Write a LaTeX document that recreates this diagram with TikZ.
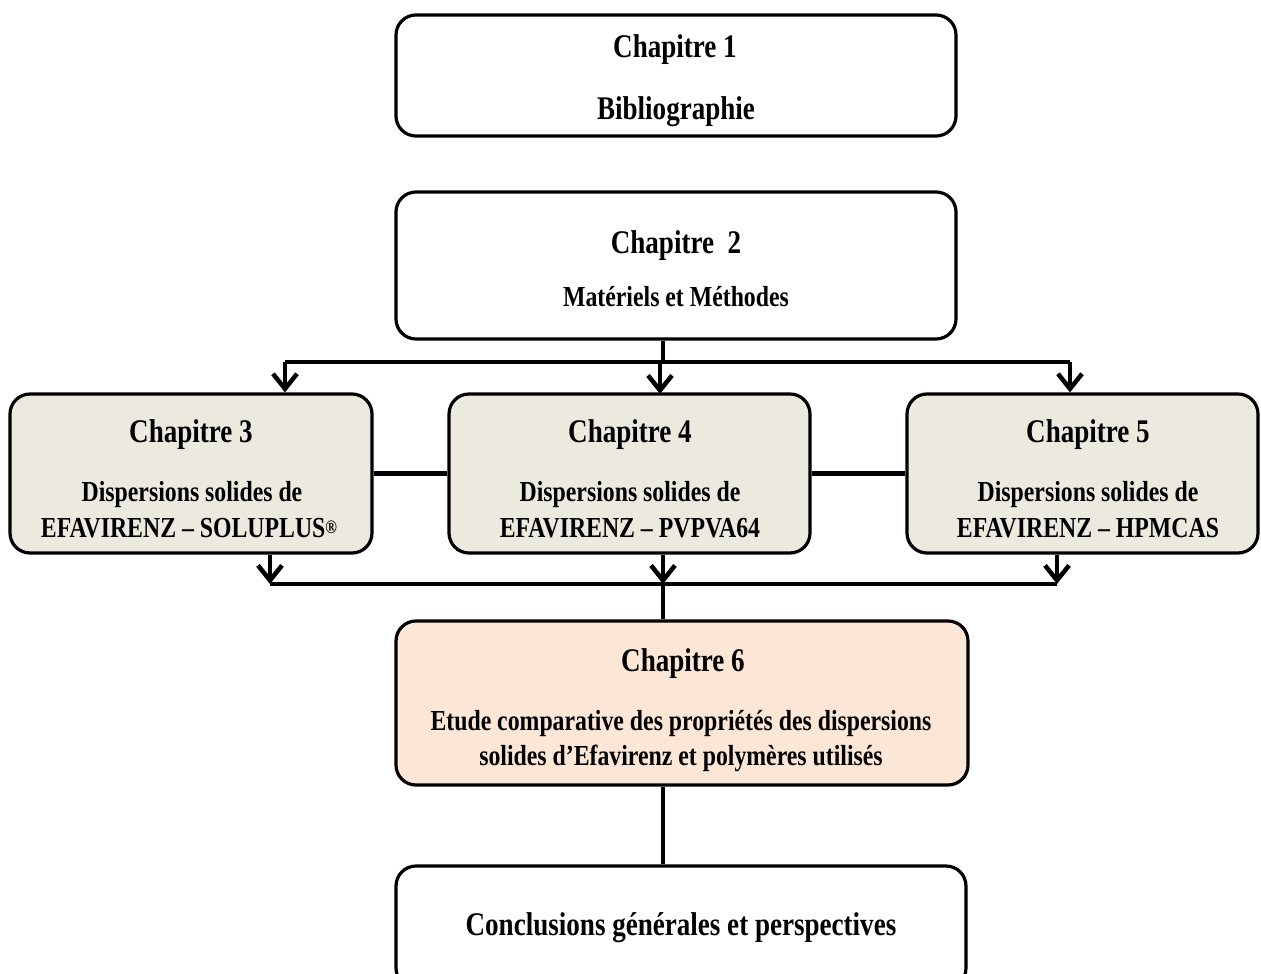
\documentclass[tikz,border=0pt]{standalone}
\usepackage{fontspec}
\setmainfont{Liberation Serif}[BoldFont={Liberation Serif Bold},FakeStretch=0.82]
\usetikzlibrary{arrows.meta}
\definecolor{beige}{RGB}{236,233,222}
\definecolor{peach}{RGB}{252,230,214}
\begin{document}
\begin{tikzpicture}[x=1pt,y=-1pt,
  box/.style={draw=black,line width=3.2pt,rounded corners=20pt,inner sep=0pt},
  big/.style={inner sep=0pt,font=\fontsize{33}{40}\selectfont\bfseries},
  small/.style={inner sep=0pt,font=\fontsize{29}{34}\selectfont\bfseries},
  conn/.style={line width=4.5pt},
  arr/.style={line width=4.5pt,-{Straight Barb[length=15pt,width=24pt,line width=4.5pt]}}]
\useasboundingbox (0,0) rectangle (1261,974);
% boxes
\node[box,minimum width=560pt,minimum height=121pt] (c1) at (676,75.5) {};
\node[box,minimum width=560pt,minimum height=147pt] (c2) at (676,265.5) {};
\node[box,fill=beige,minimum width=362pt,minimum height=159pt] (c3) at (191,473.5) {};
\node[box,fill=beige,minimum width=361pt,minimum height=159pt] (c4) at (629.5,473.5) {};
\node[box,fill=beige,minimum width=351pt,minimum height=159pt] (c5) at (1082.5,473.5) {};
\node[box,fill=peach,minimum width=572pt,minimum height=164pt] (c6) at (682,703) {};
\node[box,minimum width=570pt,minimum height=122pt] (c7) at (681,927) {};
% texts
\node[big] (t1a) at (675,50) {Chapitre 1};
\node[big] (t1b) at (676,112) {Bibliographie};
\node[big] (t2a) at (676,246) {Chapitre\ \ 2};
\node[small] (t2b) at (676,297) {Matériels et Méthodes};
\node[big] (t3a) at (191,435) {Chapitre 3};
\node[small] (t3b) at (192,495) {Dispersions solides de};
\node[small] (t3c) at (189,528) {EFAVIRENZ – SOLUPLUS\raisebox{4pt}{\fontsize{19}{20}\selectfont®}};
\node[big] (t4a) at (630,435) {Chapitre 4};
\node[small] (t4b) at (630,495) {Dispersions solides de};
\node[small] (t4c) at (630,528) {EFAVIRENZ – PVPVA64};
\node[big] (t5a) at (1088,435) {Chapitre 5};
\node[small] (t5b) at (1088,495) {Dispersions solides de};
\node[small] (t5c) at (1088,528) {EFAVIRENZ – HPMCAS};
\node[big] (t6a) at (683,664) {Chapitre 6};
\node[small] (t6b) at (681,724) {Etude comparative des propriétés des dispersions};
\node[small] (t6c) at (681,758) {solides d’Efavirenz et polymères utilisés};
\node[big] (t7) at (681,928) {Conclusions générales et perspectives};
% top connectors
\coordinate (s) at (663,362);
\coordinate (l) at (285,362);
\coordinate (r) at (1070,362);
\draw[conn] (c2.south -| s) -- (s);
\draw[conn] (l) -- (r);
\draw[arr] (l) -- (l |- c3.north);
\draw[arr] (660,362) -- (660,394);
\draw[arr] (r) -- (r |- c5.north);
% side links
\draw[conn] (c3.east) -- (c4.west);
\draw[conn] (c4.east) -- (c5.west);
% bottom connectors
\coordinate (bl) at (270,584);
\coordinate (bm) at (663,584);
\coordinate (br) at (1057,584);
\draw[arr] (bl |- c3.south) -- (bl);
\draw[arr] (bm |- c4.south) -- (bm);
\draw[arr] (br |- c5.south) -- (br);
\draw[conn] (bl) -- (br);
\draw[conn] (bm) -- (bm |- c6.north);
\draw[conn] (c6.south -| bm) -- (c7.north -| bm);
\end{tikzpicture}
\end{document}
